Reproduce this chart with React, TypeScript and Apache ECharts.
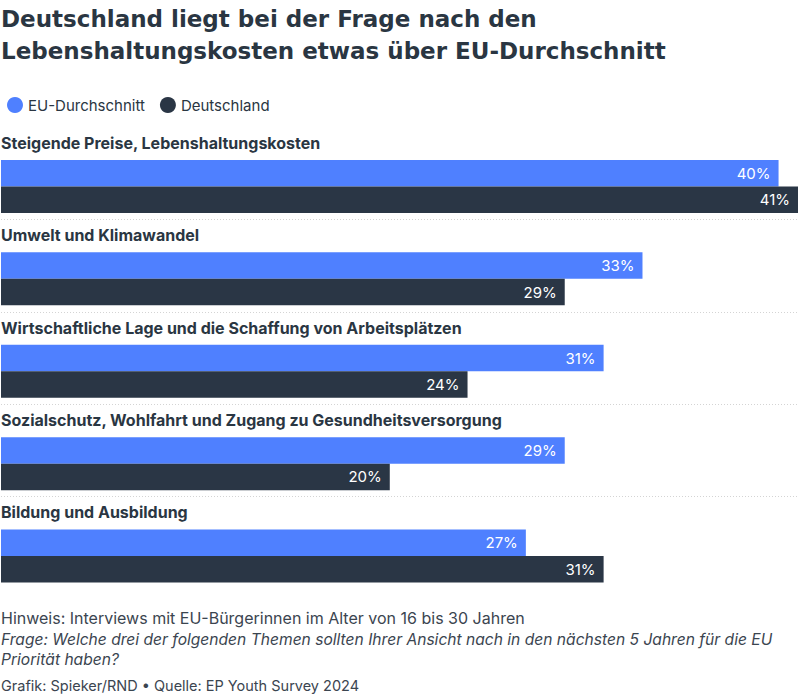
import React, { useEffect, useRef } from "react";
import * as echarts from "echarts";

const categories = [
  "Steigende Preise, Lebenshaltungskosten",
  "Umwelt und Klimawandel",
  "Wirtschaftliche Lage und die Schaffung von Arbeitsplätzen",
  "Sozialschutz, Wohlfahrt und Zugang zu Gesundheitsversorgung",
  "Bildung und Ausbildung",
];
const euValues = [40, 33, 31, 29, 27];
const deValues = [41, 29, 24, 20, 31];
const seriesNames = ["EU-Durchschnitt", "Deutschland"];
const titleLines = [
  "Deutschland liegt bei der Frage nach den",
  "Lebenshaltungskosten etwas über EU-Durchschnitt",
];
const noteText = "Hinweis: Interviews mit EU-Bürgerinnen im Alter von 16 bis 30 Jahren";
const questionLines = [
  "Frage: Welche drei der folgenden Themen sollten Ihrer Ansicht nach in den nächsten 5 Jahren für die EU",
  "Priorität haben?",
];
const sourceText = "Grafik: Spieker/RND • Quelle: EP Youth Survey 2024";

const BLUE = "#4f80ff";
const DARK = "#2a3645";
const TEXT = "#2a3642";
const FOOT = "#3b4550";
const FONT = "Inter, 'Noto Sans', sans-serif";

export default function App() {
  const ref = useRef<HTMLDivElement>(null);
  useEffect(() => {
    if (!ref.current) return;
    const chart = echarts.init(ref.current, null, { renderer: "svg" });
    const barW = 26.5;
    chart.setOption({
      animation: false,
      legend: {
        data: seriesNames,
        left: 2,
        top: 92,
        icon: "circle",
        itemWidth: 16,
        itemHeight: 16,
        itemGap: 15,
        textStyle: { fontSize: 15, fontFamily: FONT, color: TEXT },
      },
      grid: { left: 1, right: 2, top: 127, height: 462, containLabel: false },
      xAxis: { type: "value", min: 0, max: 41, show: false },
      yAxis: {
        type: "category",
        data: categories,
        inverse: true,
        axisLine: { show: false },
        axisTick: { show: false },
        axisLabel: { show: false },
        splitLine: {
          show: true,
          showMinLine: false,
          showMaxLine: false,
          lineStyle: { color: "#d4d4d4", type: [1, 2], width: 1 },
        },
      },
      graphic: [
        {
          type: "text",
          left: 1,
          top: 3,
          style: {
            text: titleLines.join("\n"),
            font: "bold 23px 'DejaVu Sans', sans-serif",
            lineHeight: 32,
            fill: TEXT,
          },
        },
        {
          type: "text",
          left: 1,
          top: 610,
          style: { text: noteText, font: `16px ${FONT}`, fill: FOOT },
        },
        {
          type: "text",
          left: 1,
          top: 630,
          style: {
            text: questionLines.join("\n"),
            font: `italic 15.6px ${FONT}`,
            lineHeight: 19.5,
            fill: FOOT,
          },
        },
        {
          type: "text",
          left: 1,
          top: 678,
          style: { text: sourceText, font: `14.5px ${FONT}`, fill: FOOT },
        },
      ],
      series: [
        {
          name: "_label",
          type: "bar",
          data: categories.map(() => 0),
          barWidth: barW,
          barGap: "0%",
          silent: true,
          itemStyle: { color: "transparent" },
          label: {
            show: true,
            position: "right",
            distance: 0,
            offset: [0, -4],
            formatter: (p: any) => categories[p.dataIndex],
            fontSize: 16,
            fontWeight: "bold",
            fontFamily: FONT,
            color: TEXT,
          },
        },
        {
          name: seriesNames[0],
          type: "bar",
          data: euValues,
          barWidth: barW,
          barGap: "0%",
          itemStyle: { color: BLUE },
          label: {
            show: true,
            position: "insideRight",
            distance: 8,
            formatter: "{c}%",
            fontSize: 15,
            fontFamily: FONT,
            color: "#ffffff",
          },
        },
        {
          name: seriesNames[1],
          type: "bar",
          data: deValues,
          barWidth: barW,
          barGap: "0%",
          itemStyle: { color: DARK },
          label: {
            show: true,
            position: "insideRight",
            distance: 8,
            formatter: "{c}%",
            fontSize: 15,
            fontFamily: FONT,
            color: "#ffffff",
          },
        },
      ],
    });
    return () => chart.dispose();
  }, []);
  return (
    <div
      ref={ref}
      style={{ position: "fixed", left: 0, top: 0, width: 800, height: 694, background: "#fff" }}
    />
  );
}
